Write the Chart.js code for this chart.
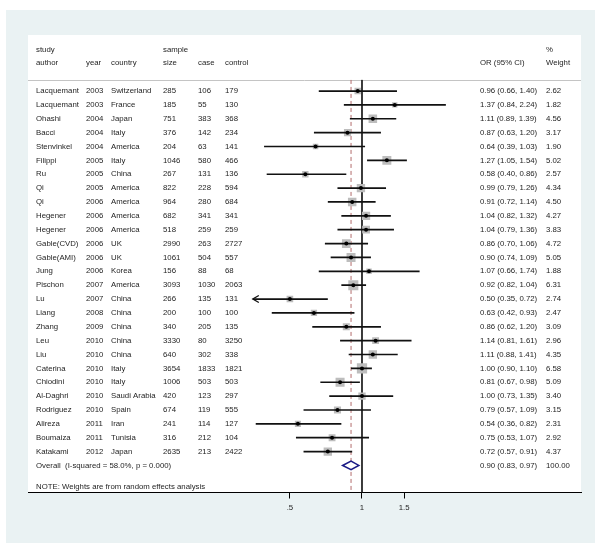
<!DOCTYPE html>
<html>
<head>
<meta charset="utf-8">
<script src="https://cdn.jsdelivr.net/npm/chart.js@4"></script>
<style>
  html, body { margin: 0; padding: 0; background: #fff; }
  canvas { display: block; }
</style>
</head>
<body>
<canvas id="forest" width="600" height="548"></canvas>
<script>
// Study table, one entry per row of the forest plot
const authors = ['Lacquemant', 'Lacquemant', 'Ohashi', 'Bacci', 'Stenvinkel', 'Filippi', 'Ru', 'Qi', 'Qi',
  'Hegener', 'Hegener', 'Gable(CVD)', 'Gable(AMI)', 'Jung', 'Pischon', 'Lu', 'Liang', 'Zhang', 'Leu', 'Liu',
  'Caterina', 'Chiodini', 'Al-Daghri', 'Rodriguez', 'Alireza', 'Boumaiza', 'Katakami'];
const years = [2003, 2003, 2004, 2004, 2004, 2005, 2005, 2005, 2006, 2006, 2006, 2006, 2006, 2006, 2007,
  2007, 2008, 2009, 2010, 2010, 2010, 2010, 2010, 2010, 2011, 2011, 2012];
const countries = ['Switzerland', 'France', 'Japan', 'Italy', 'America', 'Italy', 'China', 'America', 'America',
  'America', 'America', 'UK', 'UK', 'Korea', 'America', 'China', 'China', 'China', 'China', 'China',
  'Italy', 'Italy', 'Saudi Arabia', 'Spain', 'Iran', 'Tunisia', 'Japan'];
const sampleSize = [285, 185, 751, 376, 204, 1046, 267, 822, 964, 682, 518, 2990, 1061, 156, 3093,
  266, 200, 340, 3330, 640, 3654, 1006, 420, 674, 241, 316, 2635];
const cases = [106, 55, 383, 142, 63, 580, 131, 228, 280, 341, 259, 263, 504, 88, 1030,
  135, 100, 205, 80, 302, 1833, 503, 123, 119, 114, 212, 213];
const controls = [179, 130, 368, 234, 141, 466, 136, 594, 684, 341, 259, 2727, 557, 68, 2063,
  131, 100, 135, 3250, 338, 1821, 503, 297, 555, 127, 104, 2422];
const oddsRatio = [0.96, 1.37, 1.11, 0.87, 0.64, 1.27, 0.58, 0.99, 0.91, 1.04, 1.04, 0.86, 0.90, 1.07, 0.92,
  0.50, 0.63, 0.86, 1.14, 1.11, 1.00, 0.81, 1.00, 0.79, 0.54, 0.75, 0.72];
const ciLow = [0.66, 0.84, 0.89, 0.63, 0.39, 1.05, 0.40, 0.79, 0.72, 0.82, 0.79, 0.70, 0.74, 0.66, 0.82,
  0.35, 0.42, 0.62, 0.81, 0.88, 0.90, 0.67, 0.73, 0.57, 0.36, 0.53, 0.57];
const ciHigh = [1.40, 2.24, 1.39, 1.20, 1.03, 1.54, 0.86, 1.26, 1.14, 1.32, 1.36, 1.06, 1.09, 1.74, 1.04,
  0.72, 0.93, 1.20, 1.61, 1.41, 1.10, 0.98, 1.35, 1.09, 0.82, 1.07, 0.91];
const weights = [2.62, 1.82, 4.56, 3.17, 1.90, 5.02, 2.57, 4.34, 4.50, 4.27, 3.83, 4.72, 5.05, 1.88, 6.31,
  2.74, 2.47, 3.09, 2.96, 4.35, 6.58, 5.09, 3.40, 3.15, 2.31, 2.92, 4.37];

// Pooled (random effects) estimate
const pooledOR = 0.90;
const pooledLow = 0.83;
const pooledHigh = 0.97;
const iSquared = 58.0;
const pValue = 0.000;

const xTickValues = [0.5, 1, 1.5];
const xTickLabels = ['.5', '1', '1.5'];

// CIs that run past this are truncated with an arrow
const arrowLimit = 0.355;

const FONT = '"Liberation Sans", Arial, Helvetica, sans-serif';
const TEXT_COLOR = '#1e1e1e';
const cols = { author: 36, year: 86, country: 111, size: 163, cases: 198, control: 225, or: 480, weight: 546 };
const headerRow = -1;       // row index of second header line
const headerTopRow = -2;    // "study", "sample", "%"
const separatorRow = 0.2;   // grey rule under the header
const overallRow = authors.length + 1;
const noteRow = overallRow + 1.53;
const yMin = -3.04, yMax = 29.95;

const rowOf = i => i + 1;
const fmt2 = v => v.toFixed(2);

// Datasets
const squares = {
  type: 'scatter',
  data: oddsRatio.map((v, i) => ({ x: v, y: rowOf(i) })),
  pointStyle: 'rect',
  pointRadius: weights.map(w => 4 * Math.sqrt(w) / Math.SQRT2),
  backgroundColor: '#bdbdbd',
  borderWidth: 0,
  order: 5
};

const ciLines = oddsRatio.map((v, i) => ({
  type: 'scatter',
  showLine: true,
  data: [{ x: ciLow[i], y: rowOf(i) }, { x: ciHigh[i], y: rowOf(i) }],
  borderColor: '#111',
  borderWidth: 1.7,
  pointRadius: 0,
  order: 3
}));

const dots = {
  type: 'scatter',
  data: oddsRatio.map((v, i) => ({ x: v, y: rowOf(i) })),
  pointRadius: 2,
  backgroundColor: '#000',
  borderWidth: 0,
  order: 1
};

const nullLine = {
  type: 'scatter',
  showLine: true,
  data: [{ x: 1, y: separatorRow }, { x: 1, y: yMax }],
  borderColor: '#222',
  borderWidth: 1,
  pointRadius: 0,
  order: 6
};

const pooledLine = {
  type: 'scatter',
  showLine: true,
  data: [{ x: pooledOR, y: separatorRow }, { x: pooledOR, y: yMax }],
  borderColor: '#b36b6b',
  borderWidth: 1,
  borderDash: [4, 3],
  pointRadius: 0,
  order: 6
};

// Backgrounds: light blue graph region, white plot region, header rule
const backgroundPlugin = {
  id: 'stataBackground',
  beforeDraw(chart) {
    const { ctx, chartArea: a, scales: { y } } = chart;
    ctx.save();
    ctx.fillStyle = '#eaf2f3';
    ctx.fillRect(6, 10, 589, 533);
    ctx.fillStyle = '#fff';
    ctx.fillRect(a.left, a.top, a.right - a.left, a.bottom - a.top);
    const sy = Math.round(y.getPixelForValue(separatorRow)) + 0.5;
    ctx.strokeStyle = '#c4c4c4';
    ctx.lineWidth = 1;
    ctx.beginPath();
    ctx.moveTo(a.left, sy);
    ctx.lineTo(a.right, sy);
    ctx.stroke();
    ctx.restore();
  }
};

// Table text, pooled diamond and truncation arrows
const tablePlugin = {
  id: 'forestTable',
  afterDraw(chart) {
    const { ctx, scales: { x, y } } = chart;
    ctx.save();
    ctx.font = '7.8px ' + FONT;
    ctx.fillStyle = TEXT_COLOR;
    ctx.textBaseline = 'middle';
    ctx.textAlign = 'left';

    const put = (text, col, row) => ctx.fillText(String(text), cols[col], y.getPixelForValue(row));

    put('study', 'author', headerTopRow);
    put('author', 'author', headerRow);
    put('year', 'year', headerRow);
    put('country', 'country', headerRow);
    put('sample', 'size', headerTopRow);
    put('size', 'size', headerRow);
    put('case', 'cases', headerRow);
    put('control', 'control', headerRow);
    put('OR (95% CI)', 'or', headerRow);
    put('%', 'weight', headerTopRow);
    put('Weight', 'weight', headerRow);

    authors.forEach((name, i) => {
      const r = rowOf(i);
      put(name, 'author', r);
      put(years[i], 'year', r);
      put(countries[i], 'country', r);
      put(sampleSize[i], 'size', r);
      put(cases[i], 'cases', r);
      put(controls[i], 'control', r);
      put(`${fmt2(oddsRatio[i])} (${fmt2(ciLow[i])}, ${fmt2(ciHigh[i])})`, 'or', r);
      put(fmt2(weights[i]), 'weight', r);
    });

    put(`Overall  (I-squared = ${iSquared.toFixed(1)}%, p = ${pValue.toFixed(3)})`, 'author', overallRow);
    put(`${fmt2(pooledOR)} (${fmt2(pooledLow)}, ${fmt2(pooledHigh)})`, 'or', overallRow);
    put('100.00', 'weight', overallRow);
    put('NOTE: Weights are from random effects analysis', 'author', noteRow);

    // pooled diamond
    const dy = y.getPixelForValue(overallRow);
    ctx.beginPath();
    ctx.moveTo(x.getPixelForValue(pooledLow), dy);
    ctx.lineTo(x.getPixelForValue(pooledOR), dy - 4.3);
    ctx.lineTo(x.getPixelForValue(pooledHigh), dy);
    ctx.lineTo(x.getPixelForValue(pooledOR), dy + 4.3);
    ctx.closePath();
    ctx.fillStyle = '#fff';
    ctx.fill();
    ctx.strokeStyle = '#1a1a86';
    ctx.lineWidth = 1.5;
    ctx.stroke();

    // arrows on truncated CIs
    ctx.strokeStyle = '#111';
    ctx.lineWidth = 1.3;
    ciLow.forEach((lo, i) => {
      if (lo >= arrowLimit) return;
      const px = x.getPixelForValue(lo);
      const py = y.getPixelForValue(rowOf(i));
      ctx.beginPath();
      ctx.moveTo(px + 6, py - 3.5);
      ctx.lineTo(px, py);
      ctx.lineTo(px + 6, py + 3.5);
      ctx.stroke();
    });
    ctx.restore();
  }
};

new Chart(document.getElementById('forest'), {
  type: 'scatter',
  data: { datasets: [nullLine, pooledLine, squares, ...ciLines, dots] },
  options: {
    responsive: false,
    animation: false,
    layout: { padding: { left: 28, right: 19, top: 35, bottom: 25.5 } },
    plugins: { legend: { display: false }, tooltip: { enabled: false } },
    scales: {
      x: {
        type: 'logarithmic',
        min: 0.0403,
        max: 8.214,
        afterBuildTicks: s => { s.ticks = xTickValues.map(v => ({ value: v })); },
        afterFit: s => { s.height = 30; },
        grid: { drawOnChartArea: false, drawTicks: true, tickLength: 6, color: '#000', lineWidth: 1 },
        border: { display: true, color: '#000', width: 1 },
        ticks: {
          color: TEXT_COLOR,
          font: { family: FONT, size: 7.8 },
          padding: 5,
          autoSkip: false,
          maxRotation: 0,
          callback: v => xTickLabels[xTickValues.indexOf(v)]
        }
      },
      y: { type: 'linear', reverse: true, min: yMin, max: yMax, display: false }
    }
  },
  plugins: [backgroundPlugin, tablePlugin]
});
</script>
</body>
</html>
